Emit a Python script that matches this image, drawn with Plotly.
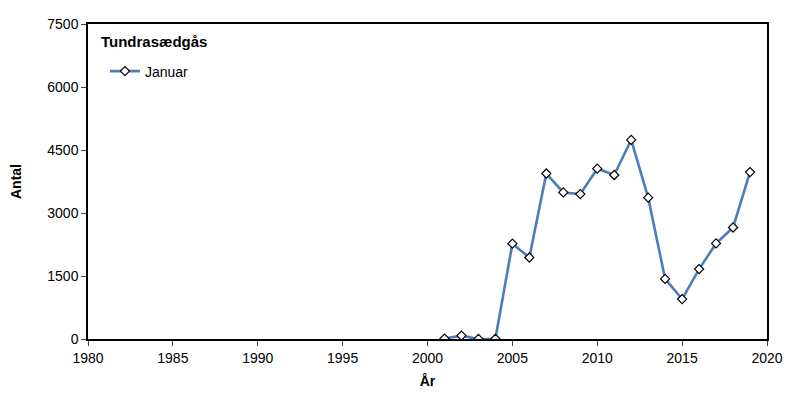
import plotly.graph_objects as go

years = list(range(2001, 2020))
antal = [10, 80, 0, 5, 2270, 1940, 3940, 3490, 3450, 4055, 3905, 4740, 3365, 1430, 950, 1665, 2275, 2655, 3975]
series_name = "Januar"
chart_title = "Tundrasædgås"
x_ticks = [1980, 1985, 1990, 1995, 2000, 2005, 2010, 2015, 2020]
y_ticks = [0, 1500, 3000, 4500, 6000, 7500]

font_family = "Liberation Sans, Arial, sans-serif"

fig = go.Figure()
fig.add_trace(go.Scatter(
    x=years, y=antal, name=series_name, mode="lines+markers",
    line=dict(color="#4a7ebb", width=2.6),
    marker=dict(symbol="diamond", size=7, color="white", line=dict(color="black", width=1.2)),
))

fig.update_layout(
    width=792, height=397,
    margin=dict(l=80, r=33, t=16, b=66, autoexpand=False),
    paper_bgcolor="white", plot_bgcolor="white",
    font=dict(family=font_family, size=14, color="black"),
    showlegend=True,
    legend=dict(x=0.025, y=0.9, xanchor="left", yanchor="top", bgcolor="rgba(0,0,0,0)",
                font=dict(size=14), itemwidth=30),
    annotations=[dict(text="<b>" + chart_title + "</b>", x=0.016, y=0.977, xref="paper", yref="paper",
                      xanchor="left", yanchor="top", showarrow=False, font=dict(size=15))],
    xaxis=dict(range=[1980, 2020], tickvals=x_ticks, ticks="outside", ticklen=5,
               showline=True, linecolor="black", linewidth=1.5, mirror=True, showgrid=False,
               zeroline=False, automargin=False,
               title=dict(text="<b>År</b>", font=dict(size=14), standoff=12)),
    yaxis=dict(range=[0, 7500], tickvals=y_ticks, ticks="outside", ticklen=5,
               showline=True, linecolor="black", linewidth=1.5, mirror=True, showgrid=False,
               zeroline=False, automargin=False,
               title=dict(text="<b>Antal</b>", font=dict(size=14), standoff=25)),
)

fig.write_html("out.html")
